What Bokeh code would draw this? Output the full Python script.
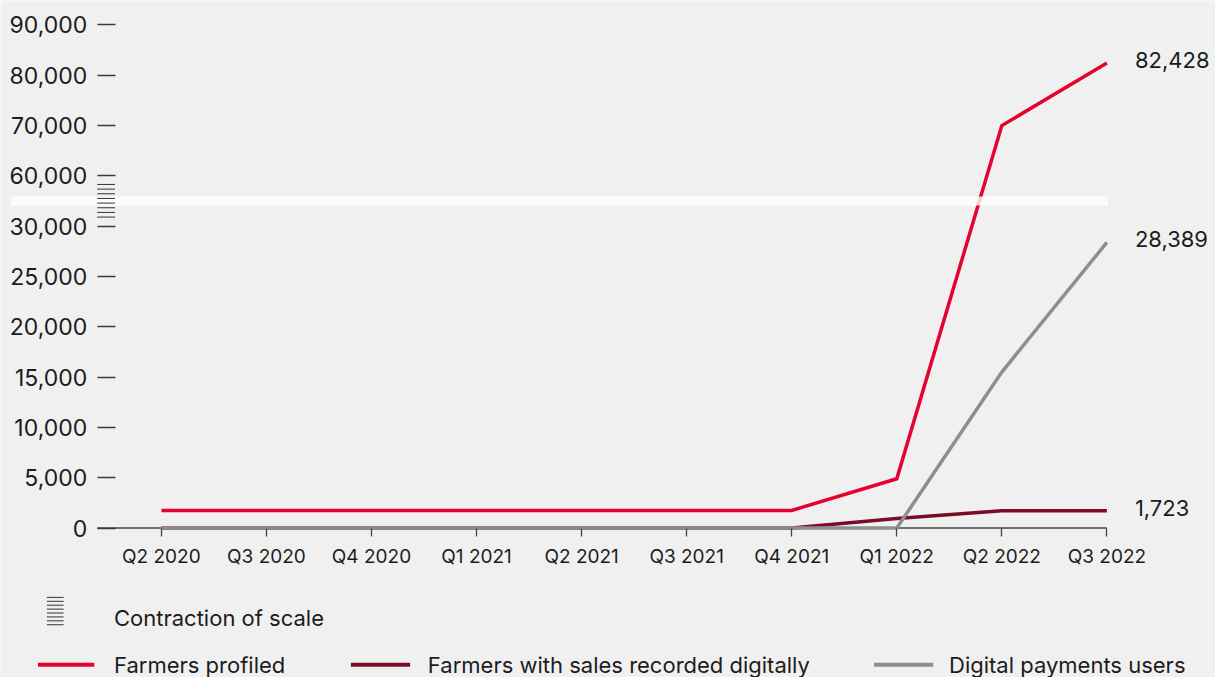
from bokeh.plotting import figure
from bokeh.models import Range1d, FixedTicker
from bokeh.embed import file_html
from bokeh.resources import INLINE
from bokeh.core.properties import value

# ---------------- data ----------------
quarters = ["Q2 2020", "Q3 2020", "Q4 2020", "Q1 2021", "Q2 2021",
            "Q3 2021", "Q4 2021", "Q1 2022", "Q2 2022", "Q3 2022"]
farmers_profiled = [1750, 1750, 1750, 1750, 1750, 1750, 1750, 4900, 70000, 82428]
sales_recorded = [0, 0, 0, 0, 0, 0, 0, 950, 1723, 1723]
digital_payments = [0, 0, 0, 0, 0, 0, 0, 0, 15500, 28389]
series_names = ["Farmers profiled", "Farmers with sales recorded digitally",
                "Digital payments users"]
series_colors = ["#e4032e", "#7b0c26", "#8e8e8e"]
y_tick_values = [0, 5000, 10000, 15000, 20000, 25000, 30000, 60000, 70000, 80000, 90000]
break_label = "Contraction of scale"

# broken scale: 0-30,000 in steps of 5,000 ; 60,000-90,000 in steps of 10,000
BREAK_LOW, BREAK_HIGH = 30000, 60000
LOW_STEP, HIGH_STEP = 5000, 10000


def scale(v):
    if v <= BREAK_LOW:
        return v / LOW_STEP
    return BREAK_LOW / LOW_STEP + 1 + (v - BREAK_HIGH) / HIGH_STEP


# ---------------- layout geometry (reference canvas 1231 x 693) ----------------
FIG_W, FIG_H = 1215, 677
REF_W, REF_H = 1231, 693
X0_REF, STEP_REF = 163, 106.44   # first category / spacing in reference px
Y0_REF, UNIT_REF = 540, 51.5     # zero line / px per scaled unit


def fx(px):
    return (px - X0_REF) / STEP_REF


def fy(py):
    return (Y0_REF - py) / UNIT_REF


FONT = value("Inter")
TXT = "#1c1c1c"
BG = "#f0f0f0"

p = figure(width=FIG_W, height=FIG_H,
           x_range=Range1d(fx(0), fx(REF_W)),
           y_range=Range1d(fy(REF_H), fy(0)),
           output_backend="svg", toolbar_location=None, min_border=0,
           background_fill_color=BG, border_fill_color=BG,
           outline_line_color=None)
p.grid.visible = False

n = len(quarters)
xs = list(range(n))

# x axis
xa = p.xaxis[0]
xa.fixed_location = 0
xa.ticker = FixedTicker(ticks=xs)
xa.major_label_overrides = {i: q for i, q in enumerate(quarters)}
xa.axis_line_color = None
xa.major_tick_in = 0
xa.major_tick_out = 8
xa.major_tick_line_color = "#444444"
xa.major_tick_line_width = 1.3
xa.minor_tick_line_color = None
xa.major_label_text_font = "Inter"
xa.major_label_text_font_size = "19px"
xa.major_label_text_color = TXT
xa.major_label_standoff = 9

# y axis
ya = p.yaxis[0]
ya.fixed_location = fx(98)
y_ticks = [scale(v) for v in y_tick_values]
ya.ticker = FixedTicker(ticks=y_ticks)
ya.major_label_overrides = {scale(v): f"{v:,}" for v in y_tick_values}
ya.axis_line_color = None
ya.major_tick_in = 18
ya.major_tick_out = 0
ya.major_tick_line_color = "#3a3a3a"
ya.major_tick_line_width = 1.5
ya.minor_tick_line_color = None
ya.major_label_text_font = "Inter"
ya.major_label_text_font_size = "23px"
ya.major_label_text_color = TXT
ya.major_label_standoff = 10

# zero axis line
p.segment(x0=[fx(98)], y0=[0], x1=[n - 1], y1=[0], line_color="#444444", line_width=1.5)

# series
all_series = [farmers_profiled, sales_recorded, digital_payments]
for vals, col in zip(all_series, series_colors):
    p.line(xs, [scale(v) for v in vals], line_color=col, line_width=3.5,
           line_join="miter")

# end-value labels
p.text(x=[n - 1] * 3, y=[scale(s[-1]) for s in all_series],
       text=[f"{s[-1]:,}" for s in all_series],
       x_offset=28, y_offset=-3, text_font=FONT, text_font_size="22px",
       text_color=TXT, text_align="left", text_baseline="middle")

# scale-break band
mid = (scale(BREAK_LOW) + BREAK_LOW / LOW_STEP + 1) / 2
p.quad(left=[fx(11)], right=[n - 1 + 0.01], bottom=[mid - 0.088], top=[mid + 0.088],
       fill_color="white", fill_alpha=0.8, line_color=None)

# contraction marks on the axis
k = 8
marks_y = [fy(188.3) + (fy(221.7) - fy(188.3)) * i / (k - 1) for i in range(k)]
p.segment(x0=[fx(98)] * k, y0=marks_y, x1=[fx(116)] * k, y1=marks_y,
          line_color="#333333", line_width=1)

# ---------------- legend ----------------
icon_y = [fy(611) + (fy(639) - fy(611)) * i / (k - 1) for i in range(k)]
p.segment(x0=[fx(47)] * k, y0=icon_y, x1=[fx(64)] * k, y1=icon_y,
          line_color="#333333", line_width=1)
p.text(x=[fx(115)], y=[fy(632)], text=[break_label], text_font=FONT,
       text_font_size="22px", text_color=TXT, text_align="left", text_baseline="middle")

leg_y = fy(680)
leg_line_x0 = [fx(38), fx(355), fx(885)]
leg_line_x1 = [fx(95), fx(415), fx(945)]
leg_text_x = [fx(115), fx(433), fx(961)]
p.segment(x0=leg_line_x0, y0=[leg_y] * 3, x1=leg_line_x1, y1=[leg_y] * 3,
          line_color=series_colors, line_width=4)
p.text(x=leg_text_x, y=[leg_y] * 3, text=series_names, text_font=FONT,
       text_font_size="22px", text_color=TXT, text_align="left", text_baseline="middle")

open("out.html", "w").write(file_html(p, INLINE))
